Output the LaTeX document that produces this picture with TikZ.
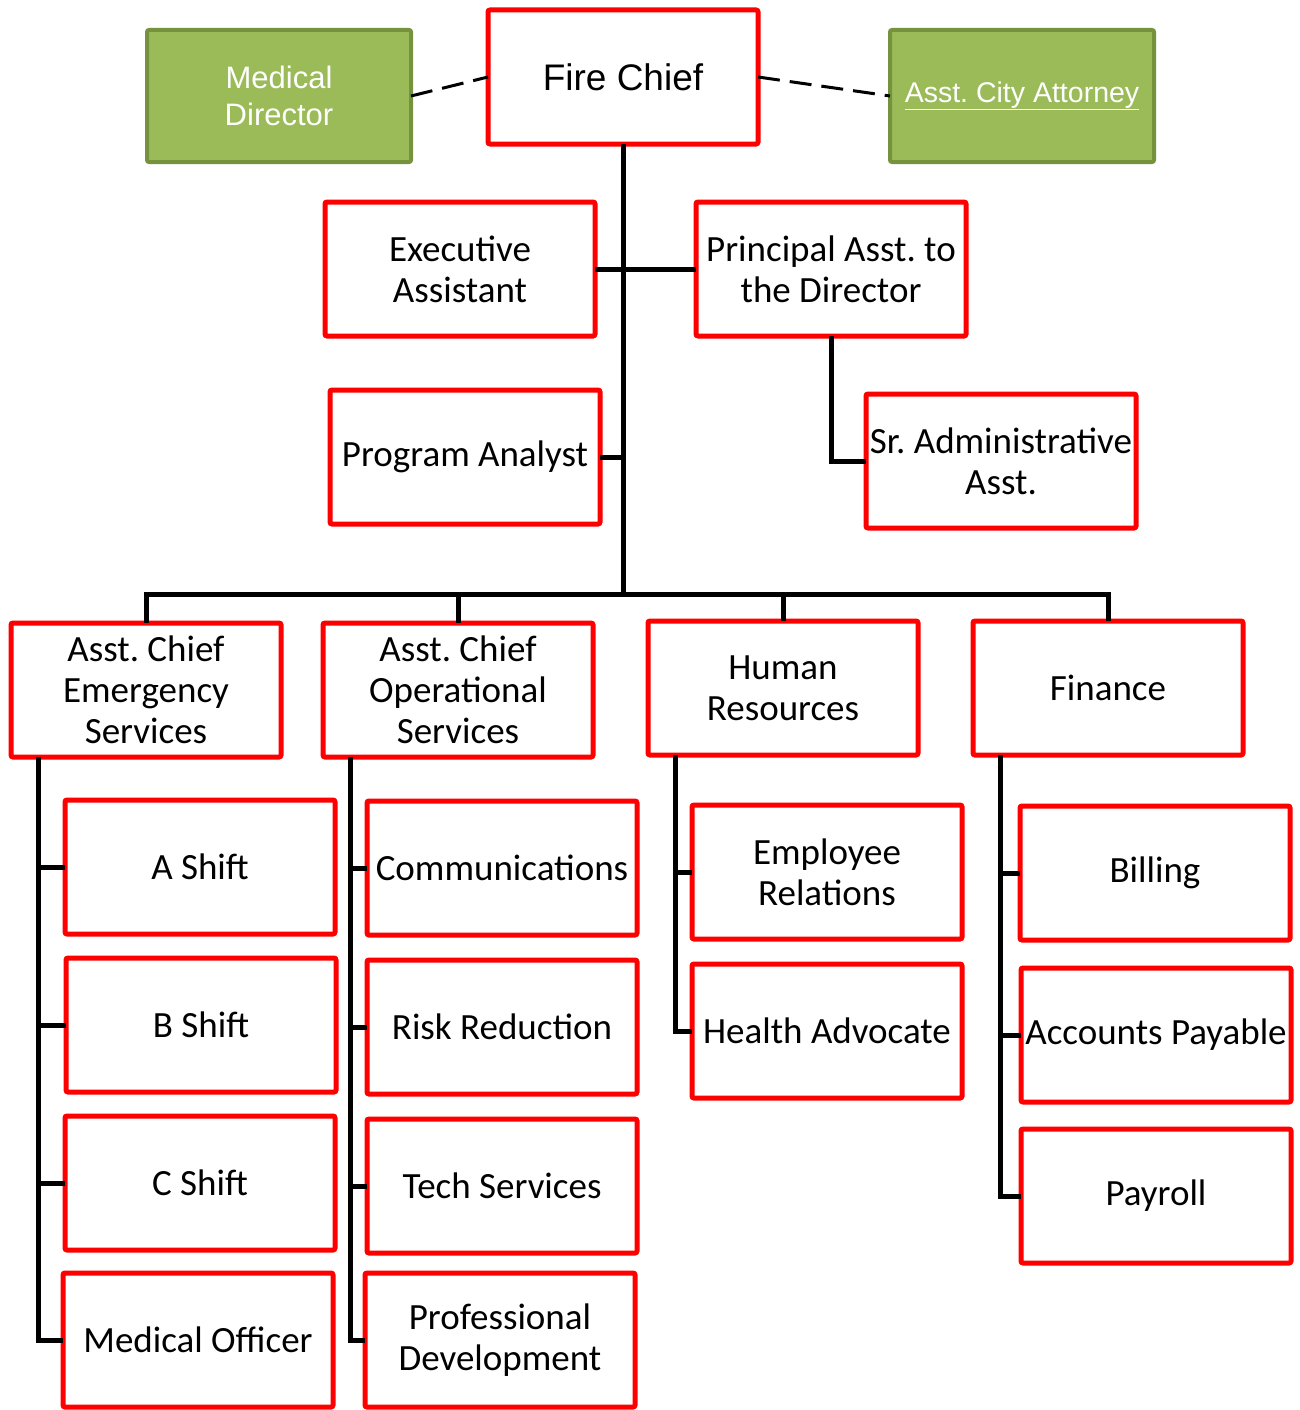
\documentclass[tikz,border=0pt]{standalone}
\usepackage{fontspec}
\setmainfont{Carlito}
\newfontfamily\arialfont{Liberation Sans}
\usepackage{xcolor}
\definecolor{boxred}{RGB}{255,0,0}
\definecolor{leafgreen}{RGB}{155,187,89}
\definecolor{leafedge}{RGB}{118,146,60}
\frenchspacing

\begin{document}
\begin{tikzpicture}[x=1pt, y=-1pt,
    redbox/.style={draw=boxred, line width=5pt, fill=white, rounded corners=2pt,
      minimum width=270pt, minimum height=134pt, inner sep=0pt, outer sep=0pt,
      align=center, font=\fontsize{37}{41}\selectfont},
    greenbox/.style={draw=leafedge, line width=4pt, fill=leafgreen, rounded corners=2pt,
      minimum width=264pt, minimum height=132pt, inner sep=0pt, outer sep=0pt,
      align=center, text=white},
    link/.style={line width=5pt},
    dashlink/.style={line width=3pt, dash pattern=on 22pt off 10pt}]
    \useasboundingbox (0,0) rectangle (1299,1410);

    % top level
    \node[redbox, font=\arialfont\fontsize{37}{42}\selectfont] (fc) at (623,77) {Fire Chief};
    \node[greenbox, font=\arialfont\fontsize{31}{37}\selectfont] (md) at (279,96) {Medical\\Director};
    \node[greenbox, font=\arialfont\fontsize{28.5}{32}\selectfont] (ca) at (1022,96) {\underline{Asst. City Attorney}};

    % staff
    \node[redbox] (ea) at (460,269) {Executive\\Assistant};
    \node[redbox] (pa) at (831,269) {Principal Asst. to\\the Director};
    \node[redbox] (pan) at (465,457) {Program Analyst};
    \node[redbox] (sr) at (1001,461) {Sr. Administrative\\Asst.};

    % divisions
    \node[redbox] (aes) at (146,690) {Asst. Chief\\Emergency\\Services};
    \node[redbox] (aos) at (458,690) {Asst. Chief\\Operational\\Services};
    \node[redbox] (hr) at (783,688) {Human\\Resources};
    \node[redbox] (fin) at (1108,688) {Finance};

    % sections
    \node[redbox] (ash) at (200,867) {A Shift};
    \node[redbox] (bsh) at (201,1025) {B Shift};
    \node[redbox] (csh) at (200,1183) {C Shift};
    \node[redbox] (mo) at (198,1340) {Medical Officer};

    \node[redbox] (com) at (502,868) {Communications};
    \node[redbox] (rr) at (502,1027) {Risk Reduction};
    \node[redbox] (ts) at (502,1186) {Tech Services};
    \node[redbox] (pd) at (500,1340) {Professional\\Development};

    \node[redbox] (er) at (827,872) {Employee\\Relations};
    \node[redbox] (ha) at (827,1031) {Health Advocate};

    \node[redbox] (bil) at (1155,873) {Billing};
    \node[redbox] (ap) at (1156,1035) {Accounts Payable};
    \node[redbox] (pay) at (1156,1196) {Payroll};

    \coordinate (bus) at (623,594);
    \coordinate (s1) at (38,0);
    \coordinate (s2) at (350,0);
    \coordinate (s3) at (675,0);
    \coordinate (s4) at (1000,0);

    % dashed advisers
    \draw[dashlink] (md.east) -- (fc.west);
    \draw[dashlink] (fc.east) -- (ca.west);

    % chain of command
    \draw[link] (fc.south) -- (bus);
    \draw[link] (ea.east) -- (pa.west);
    \draw[link] (pan.east) -- (pan.east -| fc.south);
    \draw[link] (pa.south) |- (sr.west);
    \draw[link] (aes.north) |- (bus) -| (fin.north);
    \draw[link] (aos.north) -- (aos.north |- bus);
    \draw[link] (hr.north) -- (hr.north |- bus);

    \draw[link] (aes.south -| s1) |- (mo.west);
    \draw[link] (aos.south -| s2) |- (pd.west);
    \draw[link] (hr.south -| s3) |- (ha.west);
    \draw[link] (fin.south -| s4) |- (pay.west);
    \foreach \n in {ash,bsh,csh} \draw[link] (\n.west) -- (\n.west -| s1);
    \foreach \n in {com,rr,ts} \draw[link] (\n.west) -- (\n.west -| s2);
    \draw[link] (er.west) -- (er.west -| s3);
    \foreach \n in {bil,ap} \draw[link] (\n.west) -- (\n.west -| s4);
\end{tikzpicture}
\end{document}
